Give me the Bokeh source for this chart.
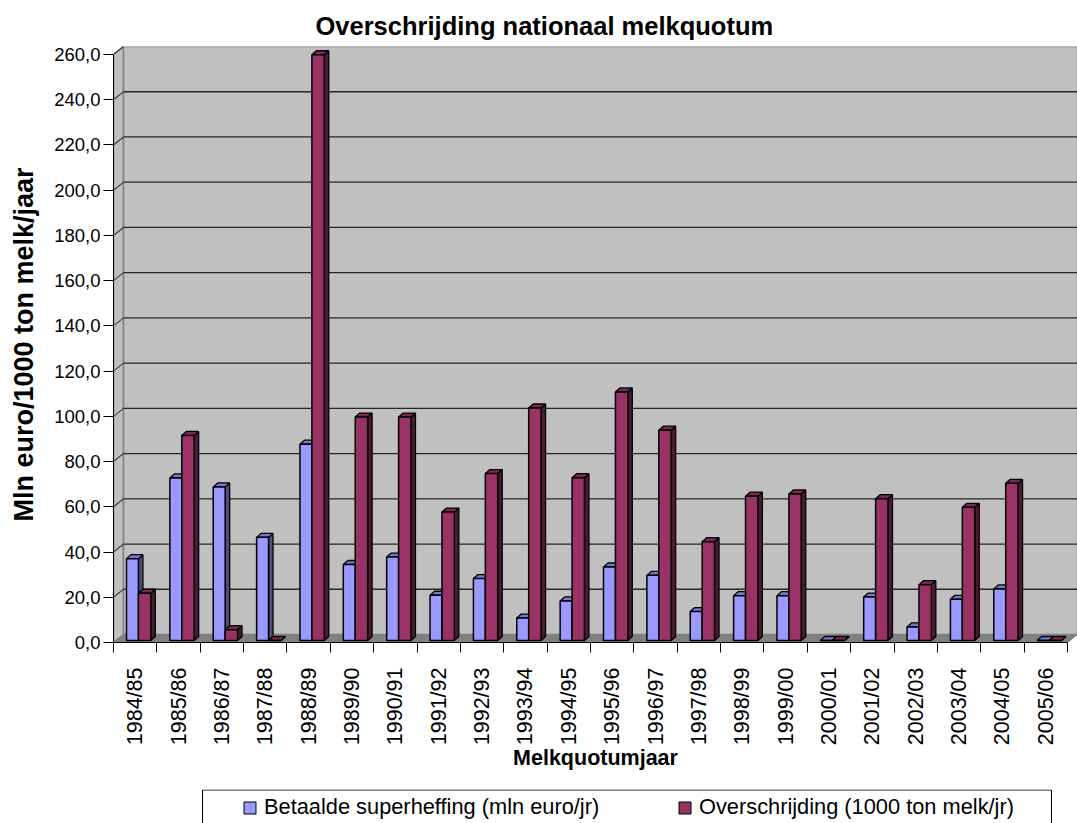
import numpy as np
from bokeh.plotting import figure
from bokeh.models import Range1d, LinearAxis, FixedTicker, Legend, LegendItem
from bokeh.layouts import column
from bokeh.embed import file_html
from bokeh.resources import INLINE

# ---------------- data ----------------
categories = ["1984/85", "1985/86", "1986/87", "1987/88", "1988/89", "1989/90",
              "1990/91", "1991/92", "1992/93", "1993/94", "1994/95", "1995/96",
              "1996/97", "1997/98", "1998/99", "1999/00", "2000/01", "2001/02",
              "2002/03", "2003/04", "2004/05", "2005/06"]
superheffing = [36.2, 71.9, 67.9, 45.6, 86.8, 33.6, 36.9, 20.0, 27.4, 9.9, 17.5,
                32.5, 28.8, 12.8, 19.8, 19.8, 0.0, 19.2, 6.0, 18.2, 22.8, 0.0]
overschrijding = [20.9, 90.7, 4.8, 0.0, 259.0, 98.8, 98.8, 56.8, 73.8, 102.8, 72.0,
                  109.9, 93.0, 43.7, 63.8, 64.8, 0.0, 62.7, 24.7, 58.9, 69.5, 0.0]
y_ticks = [0, 20, 40, 60, 80, 100, 120, 140, 160, 180, 200, 220, 240, 260]
y_tick_labels = ["0,0", "20,0", "40,0", "60,0", "80,0", "100,0", "120,0", "140,0",
                 "160,0", "180,0", "200,0", "220,0", "240,0", "260,0"]
series_names = ["Betaalde superheffing (mln euro/jr)", "Overschrijding (1000 ton melk/jr)"]

# ---------------- style ----------------
FONT = "Liberation Sans"
BLUE, BLUE_TOP, BLUE_SIDE = "#9999FF", "#7777CC", "#4D4D80"
RED, RED_TOP, RED_SIDE = "#993366", "#7A2952", "#4D1A33"
WALL, FLOOR, WALL_EDGE = "#C0C0C0", "#808080", "#808080"

W = 1077
H_MAIN = 789
H_LEG = 34
FL, FT, FB = 113, 46, 642
frame_w = W - FL
frame_h = FB - FT
n = len(categories)
y_max = y_ticks[-1]
ux = (frame_w - 10) / n          # px per category
uy = (frame_h - 8) / y_max       # px per value unit
DX, DY = 10 / ux, 8 / uy         # wall depth in data units
BDX, BDY = 4.5 / ux, 4 / uy      # bar depth in data units
BASE = 2 / uy                    # bars sit at mid depth

p = figure(width=W, height=H_MAIN, x_range=Range1d(0, n + DX), y_range=Range1d(0, y_max + DY),
           output_backend="svg", toolbar_location=None,
           x_axis_location=None, y_axis_location=None,
           min_border_left=FL, min_border_right=0, min_border_top=FT,
           min_border_bottom=H_MAIN - FB)
p.outline_line_color = None
p.background_fill_color = "white"
p.border_fill_color = "white"
p.xgrid.visible = False
p.ygrid.visible = False

# title
p.title.text = "Overschrijding nationaal melkquotum"
p.title.text_font = FONT
p.title.text_font_size = "25.5px"
p.title.text_font_style = "bold"
p.title.text_color = "black"
p.title.align = "left"
p.title.offset = 202
p.title.vertical_align = "top"
p.title.standoff = 10

# walls
p.patch([0, DX, DX, 0], [0, DY, y_max + DY, y_max], fill_color=WALL,
        line_color=WALL_EDGE, line_width=1.5)
p.quad(left=DX, right=n + DX, bottom=DY, top=y_max + DY, fill_color=WALL,
       line_color=WALL_EDGE, line_width=1.5)
grid_vals = [v for v in y_ticks[1:-1]]
p.segment(x0=[DX] * len(grid_vals), y0=[v + DY for v in grid_vals],
          x1=[n + DX] * len(grid_vals), y1=[v + DY for v in grid_vals],
          line_color="#262626", line_width=1.3)
diag = y_ticks[1:]
p.segment(x0=[0] * len(diag), y0=diag, x1=[DX] * len(diag), y1=[v + DY for v in diag],
          line_color="#404040", line_width=1.2)
# floor
p.patch([0, n, n + DX, DX], [0, 0, DY, DY], fill_color=FLOOR, line_color=FLOOR, line_width=1)


def draw_series(vals, off_l, off_r, c_front, c_top, c_side):
    lefts = [i + 0.5 + off_l for i in range(n)]
    rights = [i + 0.5 + off_r for i in range(n)]
    tops = [BASE + v for v in vals]
    p.patches(xs=[[r, r + BDX, r + BDX, r] for r in rights],
              ys=[[BASE, BASE + BDY, t + BDY, t] for t in tops],
              fill_color=c_side, line_color="black", line_width=1.3)
    p.patches(xs=[[l, r, r + BDX, l + BDX] for l, r in zip(lefts, rights)],
              ys=[[t, t, t + BDY, t + BDY] for t in tops],
              fill_color=c_top, line_color="black", line_width=1.3)
    return p.quad(left=lefts, right=rights, bottom=[BASE] * n, top=tops,
                  fill_color=c_front, line_color="black", line_width=1.5)


draw_series(superheffing, -0.20, 0.075, BLUE, BLUE_TOP, BLUE_SIDE)
draw_series(overschrijding, 0.075, 0.36, RED, RED_TOP, RED_SIDE)

# axes
yaxis = LinearAxis(bounds=(0, y_max),
                   ticker=FixedTicker(ticks=y_ticks, minor_ticks=[]),
                   major_label_overrides={t: s for t, s in zip(y_ticks, y_tick_labels)},
                   major_tick_out=10, major_tick_in=0, minor_tick_out=0, minor_tick_in=0,
                   major_label_standoff=3,
                   axis_line_color="black", major_tick_line_color="black",
                   major_label_text_font=FONT, major_label_text_font_size="18.5px",
                   major_label_text_color="black",
                   axis_label="Mln euro/1000 ton melk/jaar", axis_label_standoff=12,
                   axis_label_text_font=FONT, axis_label_text_font_size="27px",
                   axis_label_text_font_style="bold", axis_label_text_color="black")
p.add_layout(yaxis, "left")

centers = [i + 0.5 for i in range(n)]
xaxis = LinearAxis(bounds=(0, n),
                   ticker=FixedTicker(ticks=centers, minor_ticks=list(range(n + 1))),
                   major_label_overrides={c: s for c, s in zip(centers, categories)},
                   major_label_orientation=np.pi / 2,
                   major_tick_out=0, major_tick_in=0, minor_tick_out=10, minor_tick_in=0,
                   minor_tick_line_color="black",
                   major_label_standoff=15,
                   axis_line_color="black",
                   major_label_text_font=FONT, major_label_text_font_size="21.5px",
                   major_label_text_color="black",
                   axis_label="Melkquotumjaar", axis_label_standoff=-2,
                   axis_label_text_font=FONT, axis_label_text_font_size="21.5px",
                   axis_label_text_font_style="bold", axis_label_text_color="black")
p.add_layout(xaxis, "below")

# ---------------- legend (same frame columns as the chart, 1 unit = 1 px) ----------------
BOX_L, BOX_R = 89, 938
lg = figure(width=W, height=H_LEG, x_range=Range1d(0, frame_w), y_range=Range1d(0, H_LEG),
            output_backend="svg", toolbar_location=None,
            x_axis_location=None, y_axis_location=None,
            min_border_left=FL, min_border_right=0, min_border_top=0, min_border_bottom=0)
lg.outline_line_color = None
lg.background_fill_color = "white"
lg.border_fill_color = "white"
lg.xgrid.visible = False
lg.ygrid.visible = False
lg.line([BOX_L, BOX_L, BOX_R, BOX_R], [0, H_LEG - 0.5, H_LEG - 0.5, 0],
        line_color="black", line_width=1)
r1 = lg.quad(left=[-50], right=[-40], bottom=[-50], top=[-40], fill_color=BLUE, line_color="black")
r2 = lg.quad(left=[-50], right=[-40], bottom=[-50], top=[-40], fill_color=RED, line_color="black")
legend = Legend(items=[LegendItem(label=series_names[0], renderers=[r1]),
                       LegendItem(label=series_names[1], renderers=[r2])],
                orientation="horizontal", location=(BOX_L + 40, 3), padding=0, margin=0,
                spacing=0, glyph_width=15, glyph_height=15, label_standoff=7,
                label_width=413, label_text_font=FONT, label_text_font_size="21.8px",
                label_text_color="black", border_line_color=None,
                background_fill_alpha=0)
lg.add_layout(legend)

layout = column(p, lg, spacing=0)
open("out.html", "w").write(file_html(layout, INLINE))
